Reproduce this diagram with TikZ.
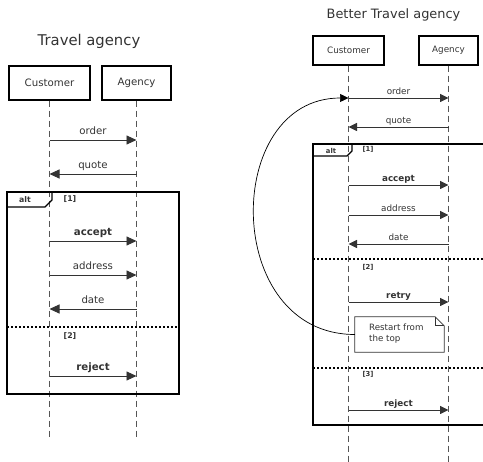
\documentclass[tikz,border=0pt]{standalone}
\usepackage{fontspec}
\setmainfont{DejaVu Sans}
\usetikzlibrary{arrows.meta}
\definecolor{ink}{HTML}{333333}
\definecolor{lline}{HTML}{555555}
\begin{document}
\begin{tikzpicture}[x=1pt,y=-1pt,
  lbox/.style={draw=black, line width=1.3pt, text=ink, inner sep=0pt},
  lifeline/.style={draw=lline, line width=0.9pt, dash pattern=on 6pt off 4pt},
  msgA/.style={draw=ink, line width=0.9pt, -{Triangle[length=10pt,width=9pt]}},
  msgB/.style={draw=ink, line width=0.9pt, -{Triangle[length=8.5pt,width=8pt]}},
  labA/.style={pos=0.5, anchor=base, yshift=5pt, text=ink, inner sep=0pt, font=\fontsize{10.2}{12}\selectfont},
  labB/.style={pos=0.5, anchor=base, yshift=3.5pt, text=ink, inner sep=0pt, font=\fontsize{8.8}{10}\selectfont},
  frame/.style={draw=black, line width=1.4pt},
  divider/.style={draw=black, line width=1.1pt, dash pattern=on 2pt off 2pt},
  guardA/.style={text=ink, inner sep=0pt, font=\fontsize{7.8}{9}\selectfont\bfseries},
  guardB/.style={text=ink, inner sep=0pt, font=\fontsize{6.8}{8}\selectfont\bfseries}
]
\useasboundingbox (0,0) rectangle (483,462);
\clip (0,0) rectangle (483,462);

% ---------------- left diagram ----------------
\node[text=ink, inner sep=0pt, font=\fontsize{14.8}{16}\selectfont] (t1) at (89,41) {Travel agency};
\node[lbox, minimum width=81pt, minimum height=34pt, font=\fontsize{10.2}{12}\selectfont] (c1) at (49.5,83) {Customer};
\node[lbox, minimum width=69pt, minimum height=34pt, font=\fontsize{10.2}{12}\selectfont] (a1) at (136.5,83) {Agency};
\coordinate (c1e) at (49.5,437);
\coordinate (a1e) at (136.5,437);
\draw[lifeline] (c1.south) -- (c1e);
\draw[lifeline] (a1.south) -- (a1e);

\draw[msgA] (c1 |- 0,140) -- node[labA] {order} (a1 |- 0,140);
\draw[msgA] (a1 |- 0,174) -- node[labA] {quote} (c1 |- 0,174);
\draw[msgA] (c1 |- 0,241) -- node[labA, font=\fontsize{10.2}{12}\selectfont\bfseries] {accept} (a1 |- 0,241);
\draw[msgA] (c1 |- 0,275) -- node[labA] {address} (a1 |- 0,275);
\draw[msgA] (a1 |- 0,309) -- node[labA] {date} (c1 |- 0,309);
\draw[msgA] (c1 |- 0,376) -- node[labA, font=\fontsize{10.2}{12}\selectfont\bfseries] {reject} (a1 |- 0,376);

\draw[frame] (7,192) rectangle (179,394);
\draw[frame] (7,207) -- (45,207) -- (52,200) -- (52,192);
\node[guardA] (alt1) at (25,199.5) {alt};
\node[guardA] (g11) at (70,199) {[1]};
\draw[divider] (7,327) -- (179,327);
\node[guardA] (g12) at (70,336) {[2]};

% ---------------- right diagram ----------------
\node[text=ink, inner sep=0pt, font=\fontsize{12.9}{14}\selectfont] (t2) at (393.5,15) {Better Travel agency};
\node[lbox, minimum width=71pt, minimum height=29pt, font=\fontsize{8.8}{10}\selectfont] (c2) at (348.5,50.5) {Customer};
\node[lbox, minimum width=59pt, minimum height=29pt, font=\fontsize{8.8}{10}\selectfont] (a2) at (448.5,50.5) {Agency};
\coordinate (c2e) at (348.5,470);
\coordinate (a2e) at (448.5,470);
\draw[lifeline] (c2.south) -- (c2e);
\draw[lifeline] (a2.south) -- (a2e);

\draw[msgB] (c2 |- 0,98) -- node[labB] {order} (a2 |- 0,98);
\draw[msgB] (a2 |- 0,127) -- node[labB] {quote} (c2 |- 0,127);
\draw[msgB] (c2 |- 0,185) -- node[labB, font=\fontsize{8.8}{10}\selectfont\bfseries] {accept} (a2 |- 0,185);
\draw[msgB] (c2 |- 0,215) -- node[labB] {address} (a2 |- 0,215);
\draw[msgB] (a2 |- 0,244) -- node[labB] {date} (c2 |- 0,244);
\draw[msgB] (c2 |- 0,302) -- node[labB, font=\fontsize{8.8}{10}\selectfont\bfseries] {retry} (a2 |- 0,302);
\draw[msgB] (c2 |- 0,410) -- node[labB, font=\fontsize{8.8}{10}\selectfont\bfseries] {reject} (a2 |- 0,410);

\draw[frame] (313,144) rectangle (500,425);
\draw[frame] (313,156) -- (347,156) -- (352,151) -- (352,144);
\node[guardB] (alt2) at (331,150.5) {alt};
\node[guardB] (g21) at (368,149) {[1]};
\draw[divider] (313,259) -- (500,259);
\node[guardB] (g22) at (368,267) {[2]};
\draw[divider] (313,368) -- (500,368);
\node[guardB] (g23) at (368,374) {[3]};

% note
\node[fill=white, minimum width=89pt, minimum height=35pt, inner sep=0pt] (note) at (399.5,334.5) {};
\node[anchor=west, align=left, text=ink, inner sep=0pt, font=\fontsize{8.7}{10.8}\selectfont] (notetext) at (369,334) {Restart from\\the top};
\draw[draw=ink, line width=0.8pt] (note.north west) -- ([xshift=-9pt]note.north east) -- ([yshift=-9pt]note.north east) -- (note.south east) -- (note.south west) -- cycle;
\draw[draw=ink, line width=0.6pt] ([xshift=-9pt]note.north east) -- ([xshift=-9pt,yshift=-9pt]note.north east) -- ([yshift=-9pt]note.north east);
\draw[draw=black, line width=0.7pt, -{Triangle[length=8.5pt,width=8pt]}] (note.west) .. controls (222,334.5) and (222,98) .. (c2 |- 0,98);
\end{tikzpicture}
\end{document}
